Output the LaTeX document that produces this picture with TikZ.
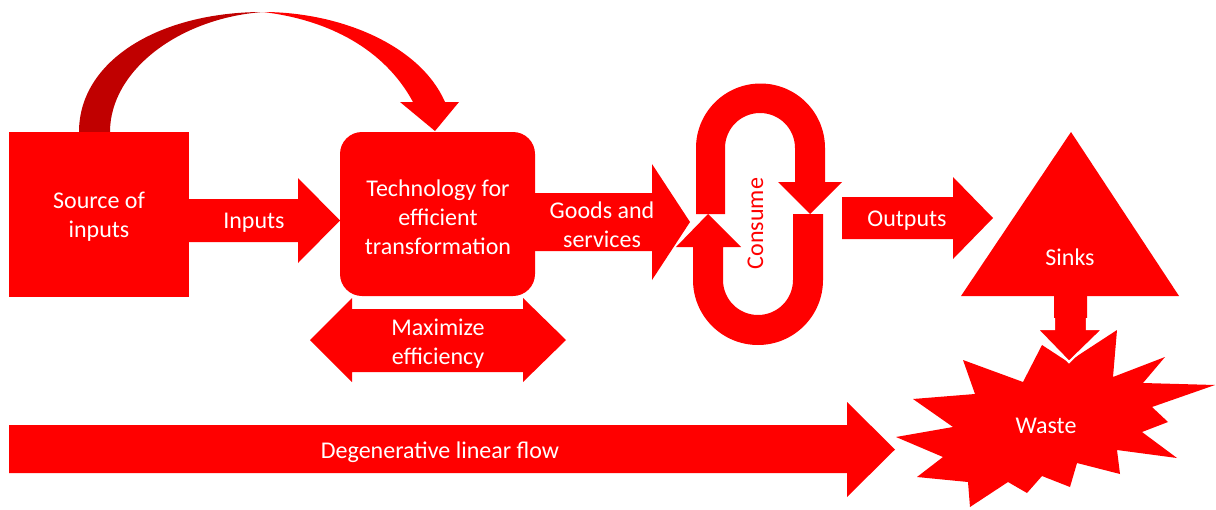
\documentclass[tikz,border=0pt]{standalone}
\usepackage{fontspec}
\setmainfont{Carlito}
\definecolor{cred}{HTML}{FF0000}
\definecolor{dred}{HTML}{C00000}
\begin{document}
\begin{tikzpicture}[x=1pt,y=-1pt,
  lbl/.style={text=white, font=\fontsize{24}{29}\selectfont, align=center, inner sep=0pt, yshift=-2.5pt},
  shapefill/.style={fill=cred, draw=none}]
\useasboundingbox (0,0) rectangle (1216,509);

% curved arrow (top)
\fill[dred] (79,132) .. controls (79,60) and (160,12) .. (263,12)
   .. controls (180,18) and (110,70) .. (110,132) -- cycle;
\fill[cred] (263,12) .. controls (340,12) and (420,45) .. (445,102)
   -- (459,102) -- (435,131) -- (400,102) -- (413,102)
   .. controls (385,50) and (330,20) .. (263,12) -- cycle;

% source
\fill[shapefill] (9,132) rectangle (189,297);
\node[lbl] (src) at (99,214) {Source of\\inputs};

% inputs arrow
\fill[shapefill] (189,199) -- (298,199) -- (298,178) -- (340,220.5) -- (298,263) -- (298,242) -- (189,242) -- cycle;
\node[lbl] (inputs) at (254,220) {Inputs};

% technology
\fill[shapefill, rounded corners=22pt] (340,132) rectangle (535,296);
\node[lbl] (tech) at (438,215) {Technology for\\efficient\\transformation};

% goods arrow
\fill[shapefill] (535,193) -- (652,193) -- (652,164) -- (690,222) -- (652,280) -- (652,251) -- (535,251) -- cycle;
\node[lbl] (goods) at (602,222) {Goods and\\services};

% consume loop
\fill[shapefill] (696,214) -- (696,148) arc[start angle=180,end angle=360,radius=64.5]
   -- (825,182) -- (842,182) -- (810,214) -- (778,182) -- (795,182) -- (795,148)
   arc[start angle=0,end angle=-180,radius=35] -- (725,214) -- cycle;
\fill[shapefill] (823,214) -- (823,280) arc[start angle=0,end angle=180,radius=65]
   -- (693,247) -- (676,247) -- (708,214) -- (741,247) -- (723,247) -- (723,280)
   arc[start angle=180,end angle=0,radius=35] -- (793,214) -- cycle;
\node[lbl, text=cred, rotate=90, yshift=2.5pt] (consume) at (758,221) {Consume};

% outputs arrow
\fill[shapefill] (842,197) -- (953,197) -- (953,177) -- (993,218) -- (953,259) -- (953,239) -- (842,239) -- cycle;
\node[lbl] (outputs) at (907,218) {Outputs};

% sinks
\fill[shapefill] (1071,132) -- (1179,296) -- (961,296) -- cycle;
\node[lbl] (sinks) at (1070,255) {Sinks};

% waste starburst
\fill[shapefill] (1042,345) -- (1023,382) -- (963,360) -- (975,394) -- (913,399) -- (953,427)
  -- (896,437) -- (943,457) -- (917,477) -- (968,482) -- (970,507) -- (1008,482)
  -- (1027,493) -- (1042,476) -- (1070,487) -- (1077,463) -- (1120,474) -- (1117,450)
  -- (1177,458) -- (1142,432) -- (1168,422) -- (1152,407) -- (1215,385) -- (1143,383)
  -- (1165,357) -- (1113,377) -- (1117,330) -- (1068,362) -- cycle;
\node[lbl] (waste) at (1046,423) {Waste};

% sinks -> waste arrow
\fill[shapefill] (1054,294) -- (1054,329) -- (1037,329) -- (1069,362) -- (1103,329) -- (1087,329) -- (1087,294) -- cycle;
\draw[white, line width=2.2pt, line join=miter] (1054,318) -- (1054,329) -- (1037,329) -- (1069,362) -- (1103,329) -- (1087,329) -- (1087,318);

% maximize efficiency
\fill[shapefill] (310,340) -- (352,298) -- (352,309) -- (523,309) -- (523,298) -- (566,340)
  -- (523,382) -- (523,372) -- (352,372) -- (352,382) -- cycle;
\node[lbl] (maxeff) at (438,341) {Maximize\\efficiency};

% degenerative linear flow
\fill[shapefill] (9,425) -- (847,425) -- (847,402) -- (895,449.5) -- (847,497) -- (847,473) -- (9,473) -- cycle;
\node[lbl] (degen) at (440,450) {Degenerative linear flow};
\end{tikzpicture}
\end{document}
